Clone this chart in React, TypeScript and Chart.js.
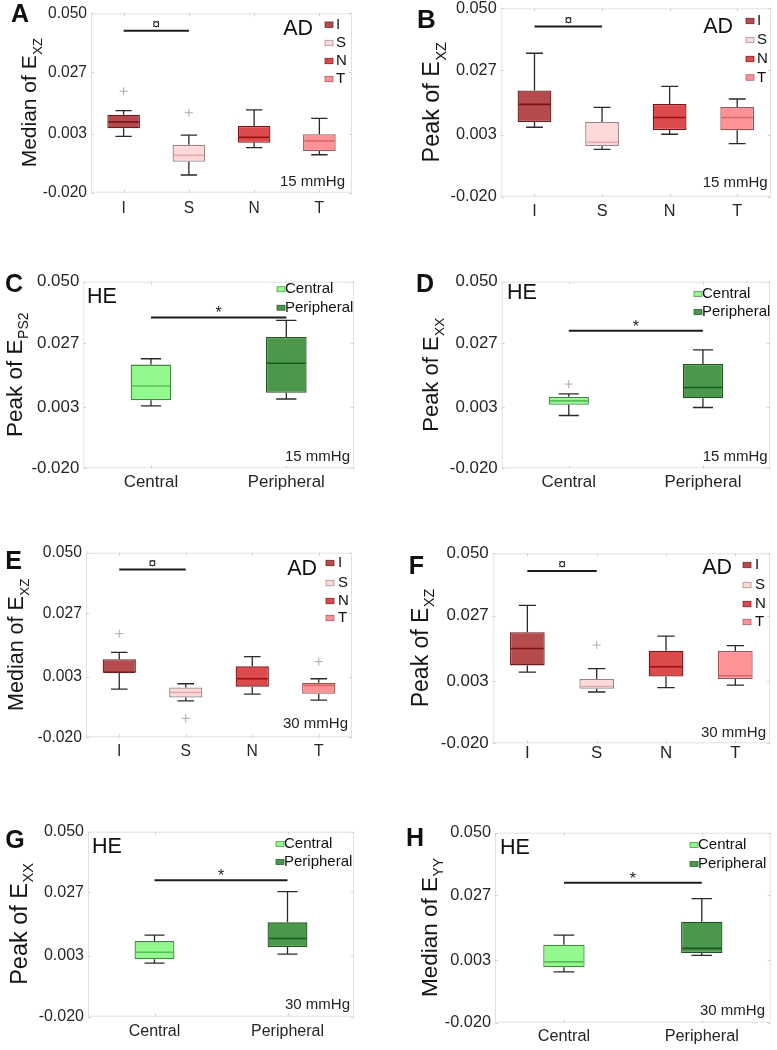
import React, { useEffect, useRef } from "react";
import { Chart, registerables } from "chart.js";
Chart.register(...registerables);

const FONT = "'Liberation Sans', Arial, Helvetica, sans-serif";

// ---------- categories & axis ----------
const regionCats = ["I", "S", "N", "T"];
const zoneCats = ["Central", "Peripheral"];
const yTickValues = [-0.02, 0.003, 0.027, 0.05];
const yMinVal = -0.02;
const yMaxVal = 0.05;

// ---------- A: Median of E_XZ, AD, 15 mmHg ----------
const aMin = [0.002, -0.0131, -0.0024, -0.0052];
const aQ1 = [0.0051, -0.0079, -0.0005, -0.0037];
const aMed = [0.0076, -0.0054, 0.0016, 0.0002];
const aQ3 = [0.0104, -0.0013, 0.006, 0.0028];
const aMax = [0.012, 0.0025, 0.0123, 0.009];
const aOut = [0.0196, 0.0112, null, null];
const aSig = 0.0432;

// ---------- B: Peak of E_XZ, AD, 15 mmHg ----------
const bMin = [0.0058, -0.0024, 0.0032, -0.0003];
const bQ1 = [0.0078, -0.0012, 0.0048, 0.0047];
const bMed = [0.0143, 0.0002, 0.0094, 0.0094];
const bQ3 = [0.0195, 0.0078, 0.0144, 0.0133];
const bMax = [0.0333, 0.0132, 0.021, 0.0163];
const bOut = [null, null, null, null];
const bSig = 0.0432;

// ---------- C: Peak of E_PS2, HE, 15 mmHg ----------
const cMin = [0.0034, 0.006];
const cQ1 = [0.0055, 0.0083];
const cMed = [0.0109, 0.0194];
const cQ3 = [0.0189, 0.0293];
const cMax = [0.0211, 0.0355];
const cOut = [null, null];
const cSig = 0.0366;

// ---------- D: Peak of E_XX, HE, 15 mmHg ----------
const dMin = [-0.0002, 0.0028];
const dQ1 = [0.0038, 0.0063];
const dMed = [0.0053, 0.0103];
const dQ3 = [0.0068, 0.0191];
const dMax = [0.0079, 0.0244];
const dOut = [0.0116, null];
const dSig = 0.0316;

// ---------- E: Median of E_XZ, AD, 30 mmHg ----------
const eMin = [-0.0017, -0.0062, -0.0036, -0.0059];
const eQ1 = [0.0045, -0.0049, -0.0008, -0.0035];
const eMed = [0.0047, -0.003, 0.0022, -0.0003];
const eQ3 = [0.0096, -0.0011, 0.0069, 0.0007];
const eMax = [0.0122, 0.0003, 0.0106, 0.0022];
const eOut = [0.0193, -0.0128, null, 0.0087];
const eSig = 0.0436;

// ---------- F: Peak of E_XZ, AD, 30 mmHg ----------
const fMin = [0.0062, -0.0011, 0.0005, 0.0014];
const fQ1 = [0.0087, 0.0001, 0.0046, 0.0037];
const fMed = [0.0149, 0.0009, 0.0082, 0.0049];
const fQ3 = [0.0209, 0.0037, 0.0141, 0.014];
const fMax = [0.0308, 0.0075, 0.0195, 0.016];
const fOut = [null, 0.0162, null, null];
const fSig = 0.0435;

// ---------- G: Peak of E_XX, HE, 30 mmHg ----------
const gMin = [0.0003, 0.0037];
const gQ1 = [0.0017, 0.0064];
const gMed = [0.0044, 0.0096];
const gQ3 = [0.0086, 0.0157];
const gMax = [0.0109, 0.0273];
const gOut = [null, null];
const gSig = 0.0316;

// ---------- H: Median of E_YY, HE, 30 mmHg ----------
const hMin = [-0.0013, 0.0048];
const hQ1 = [0.0004, 0.0057];
const hMed = [0.0024, 0.0074];
const hQ3 = [0.0087, 0.0172];
const hMax = [0.0123, 0.0257];
const hOut = [null, null];
const hSig = 0.0316;

// ---------- colours ----------
const regionFill = ["#b64b4f", "#fed9da", "#dc4a4c", "#ff9296"];
const regionBorder = ["#6e1c1c", "#9a8585", "#7e1414", "#9a5656"];
const regionMedian = ["#7a1414", "#e6a9aa", "#9a1010", "#d26868"];
const zoneFill = ["#93f98f", "#4b974b"];
const zoneBorder = ["#3f8a3f", "#1e551e"];
const zoneMedian = ["#58be58", "#195a19"];

type Rect = { x: number; y: number; w: number; h: number };
type Plot = { l: number; t: number; r: number; b: number };
type Panel = {
  id: string;
  letter: string;
  letterPos: [number, number];
  letterSize: number;
  cats: string[];
  min: number[];
  q1: number[];
  med: number[];
  q3: number[];
  max: number[];
  out: (number | null)[];
  sig: number;
  sigMark: string;
  titleMain: string;
  titleSub: string;
  titleX: number;
  titleSize: number;
  group: string;
  groupPos: [number, number];
  groupAlign: "left" | "right";
  legSqX: number;
  legTextX: number;
  legYs: number[];
  pressure: string;
  pressPos: [number, number];
  tickSize: number;
  xLabelOffset: number;
  boxFrac: number;
  fill: string[];
  border: string[];
  medColor: string[];
  canvas: Rect;
  plot: Plot;
};

const panels: Panel[] = [
  {
    id: "A", letter: "A", letterPos: [20, 15], letterSize: 25, cats: regionCats,
    min: aMin, q1: aQ1, med: aMed, q3: aQ3, max: aMax, out: aOut, sig: aSig, sigMark: "¤",
    titleMain: "Median of E", titleSub: "XZ", titleX: 36, titleSize: 21,
    group: "AD", groupPos: [313, 29], groupAlign: "right",
    legSqX: 325, legTextX: 336, legYs: [24.7, 43, 61, 79],
    pressure: "15 mmHg", pressPos: [345, 182], tickSize: 15.6, xLabelOffset: 15.6, boxFrac: 0.5,
    fill: regionFill, border: regionBorder, medColor: regionMedian,
    canvas: { x: 0, y: -20, w: 390, h: 270 }, plot: { l: 91, t: 13.3, r: 352, b: 192.7 },
  },
  {
    id: "B", letter: "B", letterPos: [426.5, 21], letterSize: 26, cats: regionCats,
    min: bMin, q1: bQ1, med: bMed, q3: bQ3, max: bMax, out: bOut, sig: bSig, sigMark: "¤",
    titleMain: "Peak of E", titleSub: "XZ", titleX: 439, titleSize: 23.4,
    group: "AD", groupPos: [733, 27], groupAlign: "right",
    legSqX: 746, legTextX: 757, legYs: [21, 40, 59, 77.5],
    pressure: "15 mmHg", pressPos: [767.7, 183.3], tickSize: 16.3, xLabelOffset: 15, boxFrac: 0.5,
    fill: regionFill, border: regionBorder, medColor: regionMedian,
    canvas: { x: 390, y: -20, w: 387, h: 270 }, plot: { l: 500.7, t: 8.3, r: 771, b: 196.7 },
  },
  {
    id: "C", letter: "C", letterPos: [14, 285.5], letterSize: 25, cats: zoneCats,
    min: cMin, q1: cQ1, med: cMed, q3: cQ3, max: cMax, out: cOut, sig: cSig, sigMark: "*",
    titleMain: "Peak of E", titleSub: "PS2", titleX: 21.5, titleSize: 22.5,
    group: "HE", groupPos: [87, 296.7], groupAlign: "left",
    legSqX: 277, legTextX: 285, legYs: [289.3, 307.7],
    pressure: "15 mmHg", pressPos: [350, 456.7], tickSize: 16.9, xLabelOffset: 14.4, boxFrac: 0.3,
    fill: zoneFill, border: zoneBorder, medColor: zoneMedian,
    canvas: { x: 0, y: 235, w: 390, h: 275 }, plot: { l: 83.3, t: 281.7, r: 354, b: 468.3 },
  },
  {
    id: "D", letter: "D", letterPos: [425, 285], letterSize: 25, cats: zoneCats,
    min: dMin, q1: dQ1, med: dMed, q3: dQ3, max: dMax, out: dOut, sig: dSig, sigMark: "*",
    titleMain: "Peak of E", titleSub: "XX", titleX: 438, titleSize: 22,
    group: "HE", groupPos: [507, 293], groupAlign: "left",
    legSqX: 694, legTextX: 702, legYs: [294, 312],
    pressure: "15 mmHg", pressPos: [767.7, 456.7], tickSize: 16.9, xLabelOffset: 14.4, boxFrac: 0.3,
    fill: zoneFill, border: zoneBorder, medColor: zoneMedian,
    canvas: { x: 390, y: 235, w: 387, h: 275 }, plot: { l: 501.7, t: 281.7, r: 770, b: 468.3 },
  },
  {
    id: "E", letter: "E", letterPos: [13.5, 562.5], letterSize: 25, cats: regionCats,
    min: eMin, q1: eQ1, med: eMed, q3: eQ3, max: eMax, out: eOut, sig: eSig, sigMark: "¤",
    titleMain: "Median of E", titleSub: "XZ", titleX: 23, titleSize: 21.5,
    group: "AD", groupPos: [317, 569], groupAlign: "right",
    legSqX: 326, legTextX: 338, legYs: [563, 583, 601, 618],
    pressure: "30 mmHg", pressPos: [348, 724], tickSize: 15.7, xLabelOffset: 14.7, boxFrac: 0.5,
    fill: regionFill, border: regionBorder, medColor: regionMedian,
    canvas: { x: 0, y: 495, w: 390, h: 280 }, plot: { l: 86, t: 552.7, r: 352, b: 737.3 },
  },
  {
    id: "F", letter: "F", letterPos: [416.5, 567], letterSize: 25, cats: regionCats,
    min: fMin, q1: fQ1, med: fMed, q3: fQ3, max: fMax, out: fOut, sig: fSig, sigMark: "¤",
    titleMain: "Peak of E", titleSub: "XZ", titleX: 428, titleSize: 23,
    group: "AD", groupPos: [732, 568], groupAlign: "right",
    legSqX: 743, legTextX: 755, legYs: [565, 585, 604, 622],
    pressure: "30 mmHg", pressPos: [766, 732.7], tickSize: 16.9, xLabelOffset: 10, boxFrac: 0.5,
    fill: regionFill, border: regionBorder, medColor: regionMedian,
    canvas: { x: 390, y: 495, w: 387, h: 280 }, plot: { l: 492.7, t: 553.3, r: 770, b: 743.3 },
  },
  {
    id: "G", letter: "G", letterPos: [15, 841.5], letterSize: 25, cats: zoneCats,
    min: gMin, q1: gQ1, med: gMed, q3: gQ3, max: gMax, out: gOut, sig: gSig, sigMark: "*",
    titleMain: "Peak of E", titleSub: "XX", titleX: 26.5, titleSize: 23.5,
    group: "HE", groupPos: [92, 847], groupAlign: "left",
    legSqX: 276, legTextX: 284, legYs: [844, 862],
    pressure: "30 mmHg", pressPos: [350, 1005], tickSize: 16, xLabelOffset: 15, boxFrac: 0.3,
    fill: zoneFill, border: zoneBorder, medColor: zoneMedian,
    canvas: { x: 0, y: 755, w: 390, h: 295 }, plot: { l: 88, t: 831.7, r: 354, b: 1016.7 },
  },
  {
    id: "H", letter: "H", letterPos: [415, 839.5], letterSize: 25, cats: zoneCats,
    min: hMin, q1: hQ1, med: hMed, q3: hQ3, max: hMax, out: hOut, sig: hSig, sigMark: "*",
    titleMain: "Median of E", titleSub: "YY", titleX: 437, titleSize: 22.5,
    group: "HE", groupPos: [500, 848], groupAlign: "left",
    legSqX: 690, legTextX: 698, legYs: [845, 864],
    pressure: "30 mmHg", pressPos: [765, 1010.7], tickSize: 16.3, xLabelOffset: 14, boxFrac: 0.3,
    fill: zoneFill, border: zoneBorder, medColor: zoneMedian,
    canvas: { x: 390, y: 755, w: 387, h: 295 }, plot: { l: 495, t: 832.7, r: 770.7, b: 1022.7 },
  },
];

function makePlugin(p: Panel) {
  return {
    id: "boxExtras" + p.id,
    afterDatasetsDraw(chart: any) {
      const ctx: CanvasRenderingContext2D = chart.ctx;
      const ys = chart.scales.y;
      const meta = chart.getDatasetMeta(0);
      ctx.save();
      meta.data.forEach((bar: any, i: number) => {
        const x = bar.x;
        const w = bar.width;
        const pMin = ys.getPixelForValue(p.min[i]);
        const pQ1 = ys.getPixelForValue(p.q1[i]);
        const pMed = ys.getPixelForValue(p.med[i]);
        const pQ3 = ys.getPixelForValue(p.q3[i]);
        const pMax = ys.getPixelForValue(p.max[i]);
        ctx.strokeStyle = "#2a2a2a";
        ctx.lineWidth = 1.3;
        ctx.beginPath();
        ctx.moveTo(x, pQ3);
        ctx.lineTo(x, pMax);
        ctx.moveTo(x - w / 4, pMax);
        ctx.lineTo(x + w / 4, pMax);
        ctx.moveTo(x, pQ1);
        ctx.lineTo(x, pMin);
        ctx.moveTo(x - w / 4, pMin);
        ctx.lineTo(x + w / 4, pMin);
        ctx.stroke();
        ctx.strokeStyle = p.medColor[i];
        ctx.lineWidth = 1.6;
        ctx.beginPath();
        ctx.moveTo(x - w / 2 + 1, pMed);
        ctx.lineTo(x + w / 2 - 1, pMed);
        ctx.stroke();
      });
      ctx.restore();
    },
    afterDraw(chart: any) {
      const ctx: CanvasRenderingContext2D = chart.ctx;
      const xs = chart.scales.x;
      const ys = chart.scales.y;
      const a = chart.chartArea;
      ctx.save();
      // frame
      ctx.strokeStyle = "#e1e1e1";
      ctx.lineWidth = 1;
      ctx.strokeRect(a.left + 0.5, a.top + 0.5, a.right - a.left - 1, a.bottom - a.top - 1);
      ctx.strokeStyle = "#d2d2d2";
      ctx.beginPath();
      yTickValues.forEach((v) => {
        const py = Math.round(ys.getPixelForValue(v)) + 0.5;
        ctx.moveTo(a.left, py);
        ctx.lineTo(a.left + 3, py);
        ctx.moveTo(a.right - 3, py);
        ctx.lineTo(a.right, py);
      });
      p.cats.forEach((_, i) => {
        const px = Math.round(xs.getPixelForValue(i)) + 0.5;
        ctx.moveTo(px, a.top);
        ctx.lineTo(px, a.top + 3);
        ctx.moveTo(px, a.bottom - 3);
        ctx.lineTo(px, a.bottom);
      });
      ctx.stroke();
      // significance bar
      const sy = ys.getPixelForValue(p.sig);
      const sx0 = xs.getPixelForValue(0);
      const sx1 = xs.getPixelForValue(1);
      ctx.strokeStyle = "#1c1c1c";
      ctx.lineWidth = 2;
      ctx.beginPath();
      ctx.moveTo(sx0, sy);
      ctx.lineTo(sx1, sy);
      ctx.stroke();
      ctx.fillStyle = "#1c1c1c";
      ctx.textAlign = "center";
      ctx.textBaseline = "alphabetic";
      if (p.sigMark === "*") {
        ctx.font = `16px ${FONT}`;
        ctx.fillText("*", (sx0 + sx1) / 2, sy + 1);
      } else {
        ctx.font = `14px ${FONT}`;
        ctx.fillText("¤", (sx0 + sx1) / 2, sy - 1.5);
      }

      // page-coordinate texts
      ctx.translate(-p.canvas.x, -p.canvas.y);
      ctx.fillStyle = "#111";
      // panel letter
      ctx.font = `bold ${p.letterSize}px ${FONT}`;
      ctx.textAlign = "center";
      ctx.textBaseline = "middle";
      ctx.fillText(p.letter, p.letterPos[0], p.letterPos[1]);
      // group label
      ctx.font = `21.5px ${FONT}`;
      ctx.textAlign = p.groupAlign;
      ctx.fillText(p.group, p.groupPos[0], p.groupPos[1]);
      // legend
      p.cats.forEach((c, i) => {
        const y = p.legYs[i];
        const isAD = p.cats.length === 4;
        const w = 8;
        const h = isAD ? 5.5 : 5;
        ctx.fillStyle = p.fill[i];
        ctx.fillRect(p.legSqX, y - h / 2, w, h);
        ctx.strokeStyle = p.border[i];
        ctx.lineWidth = 0.7;
        ctx.strokeRect(p.legSqX, y - h / 2, w, h);
        ctx.fillStyle = "#111";
        ctx.font = `15px ${FONT}`;
        ctx.textAlign = "left";
        ctx.textBaseline = "middle";
        ctx.fillText(c, p.legTextX, y);
      });
      // pressure
      ctx.font = `15px ${FONT}`;
      ctx.textAlign = "right";
      ctx.textBaseline = "middle";
      ctx.fillStyle = "#222";
      ctx.fillText(p.pressure, p.pressPos[0], p.pressPos[1]);
      // y-axis title with subscript
      ctx.save();
      ctx.translate(p.titleX, (p.plot.t + p.plot.b) / 2);
      ctx.rotate(-Math.PI / 2);
      const mainFont = `${p.titleSize}px ${FONT}`;
      const subFont = `${p.titleSize * 0.62}px ${FONT}`;
      ctx.font = mainFont;
      const mw = ctx.measureText(p.titleMain).width;
      ctx.font = subFont;
      const sw = ctx.measureText(p.titleSub).width;
      const start = -(mw + sw) / 2;
      ctx.textAlign = "left";
      ctx.textBaseline = "alphabetic";
      ctx.fillStyle = "#151515";
      ctx.font = mainFont;
      ctx.fillText(p.titleMain, start, 0);
      ctx.font = subFont;
      ctx.fillText(p.titleSub, start + mw + 0.5, p.titleSize * 0.28);
      ctx.restore();
      ctx.restore();
    },
  };
}

function buildConfig(p: Panel): any {
  const padTop = p.plot.t - p.canvas.y;
  const padRight = p.canvas.x + p.canvas.w - p.plot.r;
  const yWidth = p.plot.l - p.canvas.x;
  const xHeight = p.canvas.y + p.canvas.h - p.plot.b;
  const xPad = Math.max(0, p.xLabelOffset - 0.6 * p.tickSize);
  return {
    type: "bar",
    data: {
      labels: p.cats,
      datasets: [
        {
          type: "bar",
          label: "box",
          data: p.cats.map((_, i) => [p.q1[i], p.q3[i]]),
          backgroundColor: p.fill,
          borderColor: p.border,
          borderWidth: 1.3,
          borderSkipped: false,
          barPercentage: p.boxFrac,
          categoryPercentage: 1,
        },
        {
          type: "line",
          label: "outliers",
          data: p.out,
          showLine: false,
          pointStyle: "cross",
          pointRadius: 4,
          pointBorderWidth: 1,
          pointBorderColor: "#a9a9a9",
          pointBackgroundColor: "#a9a9a9",
        },
      ],
    },
    options: {
      responsive: false,
      maintainAspectRatio: false,
      animation: false,
      devicePixelRatio: 1,
      events: [],
      layout: { padding: { top: padTop, right: padRight, left: 0, bottom: 0 } },
      plugins: { legend: { display: false }, tooltip: { enabled: false } },
      scales: {
        x: {
          type: "category",
          offset: true,
          grid: { display: false, drawTicks: false },
          border: { display: false },
          ticks: { font: { family: FONT, size: p.tickSize }, color: "#262626", padding: xPad, maxRotation: 0 },
          afterFit: (s: any) => {
            s.height = xHeight;
          },
        },
        y: {
          type: "linear",
          min: yMinVal,
          max: yMaxVal,
          grid: { display: false, drawTicks: false },
          border: { display: false },
          afterBuildTicks: (s: any) => {
            s.ticks = yTickValues.map((v) => ({ value: v }));
          },
          ticks: {
            font: { family: FONT, size: p.tickSize },
            color: "#262626",
            padding: 4,
            callback: (v: any) => Number(v).toFixed(3),
          },
          afterFit: (s: any) => {
            s.width = yWidth;
          },
        },
      },
    },
    plugins: [makePlugin(p)],
  };
}

function PanelChart({ p }: { p: Panel }) {
  const ref = useRef<HTMLCanvasElement | null>(null);
  useEffect(() => {
    const chart = new Chart(ref.current as HTMLCanvasElement, buildConfig(p));
    return () => chart.destroy();
  }, [p]);
  return (
    <canvas
      ref={ref}
      width={p.canvas.w}
      height={p.canvas.h}
      style={{ position: "absolute", left: p.canvas.x, top: p.canvas.y, width: p.canvas.w, height: p.canvas.h }}
    />
  );
}

export default function App() {
  return (
    <div
      style={{
        position: "absolute",
        left: 0,
        top: 0,
        width: 777,
        height: 1050,
        overflow: "hidden",
        background: "#ffffff",
      }}
    >
      {panels.map((p) => (
        <PanelChart key={p.id} p={p} />
      ))}
    </div>
  );
}
